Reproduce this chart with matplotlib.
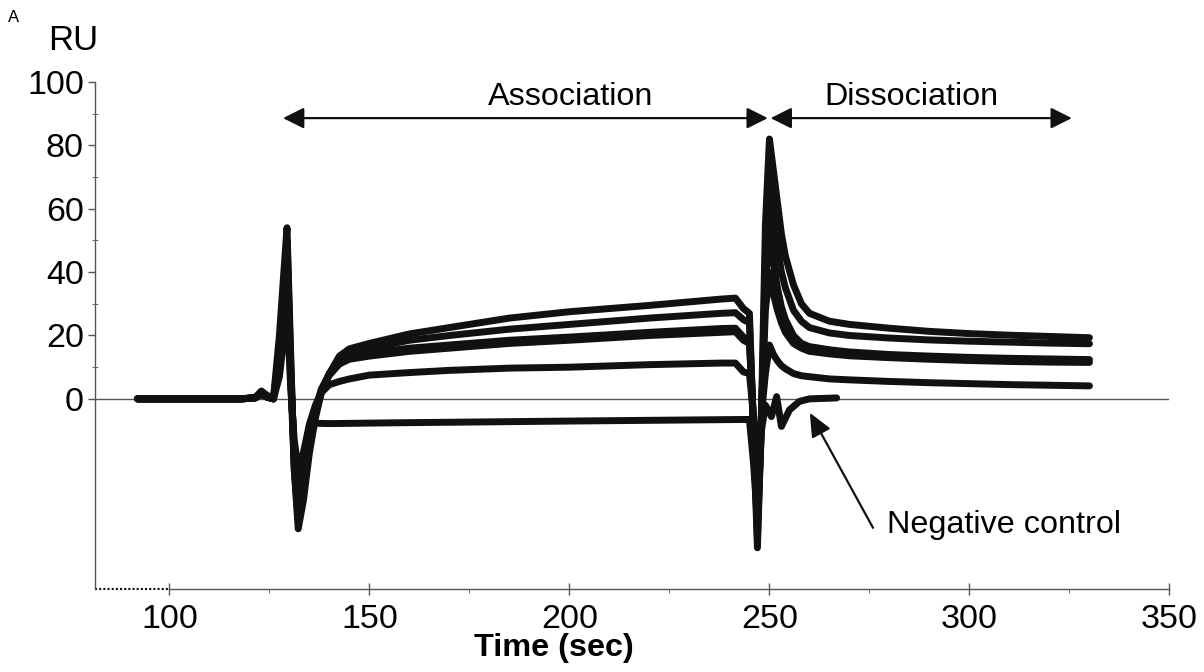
import matplotlib
matplotlib.use("Agg")
import matplotlib.pyplot as plt
import numpy as np

plt.rcParams["font.family"] = ["Liberation Sans", "DejaVu Sans"]

# Sensorgram data (time in sec, response in RU)
t = [92, 118, 121.5, 123, 124.5, 126, 127.5, 128.5, 129.4, 130.3,
     131.2, 132.2, 133.5, 135, 136.5, 138, 140, 142.5, 145, 150,
     160, 170, 185, 200, 220, 238, 241.5, 243.5, 245, 246,
     247, 248, 249, 250, 251, 252, 253, 254, 256, 258,
     260, 265, 270, 280, 290, 300, 310, 320, 330]

ru_1 = [0, 0, 0.5, 2.5, 1, 0, 20, 38, 54, 15,
        -22, -41, -32, -17, -6, 2, 8, 13.5, 15.8, 17.5,
        20.5, 22.5, 25.5, 27.5, 29.5, 31.5, 31.8, 28.5, 27, -10,
        -47, -5, 55, 82, 72, 62, 52, 45, 36, 30,
        27, 24.5, 23.5, 22.3, 21.3, 20.6, 20.1, 19.7, 19.3]
ru_2 = [0, 0, 0.3, 1.5, 0.5, 0, 15, 33, 50, 12,
        -20, -38, -29, -15, -5, 2.5, 8, 12.5, 14.5, 16,
        18.5, 20, 22, 23.5, 25.5, 27, 27.2, 25, 24, -8,
        -44, -8, 45, 70, 58, 48, 40, 35, 28, 24.5,
        22.5, 20.8, 20, 19.2, 18.6, 18.2, 17.9, 17.6, 17.4]
ru_3 = [0, 0, 0.3, 1.5, 0.5, 0, 12, 29, 46, 9,
        -18, -35, -26, -13, -4, 3, 8, 12, 13.5, 14.5,
        16, 17, 18.5, 19.5, 21, 22.2, 22.3, 19.5, 18.5, -8,
        -40, -6, 35, 55, 43, 35, 29, 25, 20, 17.5,
        16.5, 15.5, 14.8, 14, 13.5, 13.1, 12.8, 12.6, 12.4]
ru_4 = [0, 0, 0.3, 1.5, 0.5, 0, 10, 25, 40, 7,
        -16, -30, -22, -11, -3, 3, 7.5, 11, 12.5, 13.5,
        15, 16, 17.5, 18.5, 20, 21, 21.2, 18.5, 17.5, -6,
        -35, -5, 28, 40, 33, 28, 24, 21, 17.5, 16,
        15, 14.2, 13.6, 13, 12.5, 12.1, 11.8, 11.6, 11.5]
ru_5 = [0, 0, 0.3, 1.5, 0.5, 0, 7, 18, 30, 4,
        -13, -22, -17, -8, -2, 2, 4.5, 5.5, 6.3, 7.5,
        8.3, 9, 9.7, 10, 10.8, 11.3, 11.3, 8.5, 8, -5,
        -30, -5, 8, 17, 14, 12, 10.5, 9.5, 8, 7.3,
        7, 6.3, 6, 5.5, 5.1, 4.8, 4.5, 4.3, 4.1]

t_neg = [92, 118, 121.5, 123, 124.5, 126, 127.5, 128.5, 129.4, 130.3,
         131.2, 132.2, 133.5, 135, 136.5, 140, 160, 200, 243.5, 245,
         246, 247, 248, 249, 250.5, 251.8, 253, 255, 257.5, 260, 266.8]
ru_neg = [0, 0, 0.5, 2, 1, 0, 14, 31, 48, 8,
          -22, -38, -24, -11, -7.7, -7.8, -7.5, -7, -6.5, -6.5,
          -20, -38, -10, -2, -5.6, 0.7, -8.7, -3.5, -0.8, 0, 0.3]

xticks = [100, 150, 200, 250, 300, 350]
yticks = [0, 20, 40, 60, 80, 100]

fig = plt.figure(figsize=(12.04, 6.72), dpi=100)
ax = fig.add_axes([0.0789, 0.1235, 0.8924, 0.7545])

axis_col = "#555555"
ax.axhline(0, color=axis_col, lw=1, zorder=1)

for ru in [ru_5, ru_4, ru_3, ru_2, ru_1]:
    ax.plot(t, ru, color="#111111", lw=5, solid_joinstyle="round",
            solid_capstyle="round", zorder=3)
ax.plot(t_neg, ru_neg, color="#111111", lw=5, solid_joinstyle="round",
        solid_capstyle="round", zorder=3)

ax.set_xlim(81.4, 350)
ax.set_ylim(-60, 100)

# Axes styling
ax.spines["top"].set_visible(False)
ax.spines["right"].set_visible(False)
for s in ["left", "bottom"]:
    ax.spines[s].set_color(axis_col)
    ax.spines[s].set_linewidth(1)
ax.spines["bottom"].set_bounds(100, 350)
ax.plot([81.4, 100], [-60, -60], ls=(0, (1, 1)), color="#111111", lw=1.5,
        clip_on=False, zorder=2)

ax.set_xticks(xticks)
ax.set_xticks([125, 175, 225, 275, 325], minor=True)
ax.set_yticks(yticks)
ax.set_yticks([10, 30, 50, 70, 90], minor=True)
ax.tick_params(axis="both", which="major", labelsize=24.5, color=axis_col,
               width=1)
ax.tick_params(axis="x", which="major", direction="inout", length=8, pad=7)
ax.tick_params(axis="x", which="minor", direction="out", length=3,
               color=axis_col)
ax.tick_params(axis="y", which="major", direction="out", length=5, pad=3)
ax.tick_params(axis="y", which="minor", direction="inout", length=4,
               color=axis_col)

# Phase arrows
arrow_kw = dict(arrowstyle="<|-|>,head_length=0.8,head_width=0.4",
                color="#111111", lw=1.6, mutation_scale=16,
                shrinkA=0, shrinkB=0)
ax.annotate("", xy=(128.4, 88.6), xytext=(249.6, 88.6), arrowprops=arrow_kw)
ax.annotate("", xy=(250.3, 88.6), xytext=(325.6, 88.6), arrowprops=arrow_kw)
ax.text(200.4, 95.3, "Association", fontsize=23.3, ha="center", va="center")
ax.text(285.5, 95.3, "Dissociation", fontsize=23.3, ha="center", va="center")

ax.annotate("", xy=(260.1, -4.4), xytext=(275.9, -40.7),
            arrowprops=dict(arrowstyle="-|>,head_length=0.9,head_width=0.4",
                            color="#111111", lw=1.6, mutation_scale=16,
                            shrinkA=0, shrinkB=0))
ax.text(279.4, -39.7, "Negative control", fontsize=23.3, ha="left",
        va="center")

ax.text(196, -78.6, "Time (sec)", fontsize=23.3, fontweight="bold",
        ha="center", va="center", clip_on=False)

fig.text(73.5 / 1204, 1 - 40 / 672, "RU", fontsize=25, ha="center",
         va="center")
fig.text(14 / 1204, 1 - 18 / 672, "A", fontsize=12, ha="center",
         va="center")

fig.savefig("out.png", dpi=100)
